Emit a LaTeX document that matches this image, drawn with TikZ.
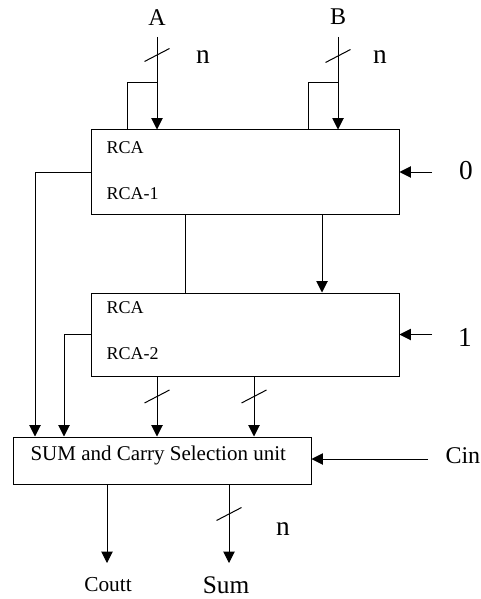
\documentclass[tikz,border=0pt]{standalone}
\usepackage{fontspec}
\setmainfont{Liberation Serif}
\usetikzlibrary{arrows.meta, positioning}

\newcommand{\busmark}[1]{\draw (#1) ++(-12.5,6.5) -- ++(25,-13);}

\begin{document}
\begin{tikzpicture}[x=0.75pt, y=-0.75pt, line width=0.75pt,
    box/.style={rectangle, draw, inner sep=0pt},
    arr/.style={-{Triangle[width=8.5pt, length=8.5pt]}},
    tag/.style={inner sep=0pt, font=\fontsize{13.5}{14}\selectfont},
    io/.style={inner sep=0pt, anchor=base, font=\fontsize{18}{19}\selectfont},
    bw/.style={inner sep=0pt, anchor=base, font=\fontsize{20.5}{21}\selectfont}]
    \useasboundingbox (0,0) rectangle (481,599);

    % blocks
    \node[box, minimum width=231pt, minimum height=63pt] (rca1) at (245,172) {};
    \node[box, minimum width=231pt, minimum height=62.25pt] (rca2) at (245,334.5) {};
    \node[box, minimum width=223.5pt, minimum height=35.25pt] (sel) at (162,460.5) {};

    \node[tag, anchor=base west] (r1a) at (106,153) {RCA};
    \node[tag, anchor=base west] (r1b) at (106,199) {RCA-1};
    \node[tag, anchor=base west] (r2a) at (106,313) {RCA};
    \node[tag, anchor=base west] (r2b) at (106,359) {RCA-2};
    \node[inner sep=0pt, anchor=base west, font=\fontsize{15.75}{16}\selectfont] (selt) at (30,460) {SUM and Carry Selection unit};

    % inputs A, B
    \node[io] (A) at (157,26) {A};
    \node[io] (B) at (338,25) {B};
    \node[bw] (nA) at (203,64) {n};
    \node[bw] (nB) at (380,64) {n};
    \coordinate (a0) at (157,37);
    \coordinate (b0) at (338,37);
    \coordinate (atap) at (157,83);
    \coordinate (btap) at (338,83);
    \coordinate (ax) at (127,0);
    \coordinate (bx) at (308,0);
    \draw[arr] (a0) -- (a0 |- rca1.north);
    \draw[arr] (b0) -- (b0 |- rca1.north);
    \draw (atap) -| (rca1.north -| ax);
    \draw (btap) -| (rca1.north -| bx);
    \busmark{157,55}
    \busmark{338,56}

    % carry inputs 0, 1
    \node[bw] (c0) at (466,180) {0};
    \node[bw] (c1) at (465,346) {1};
    \coordinate (c0s) at (432,172);
    \coordinate (c1s) at (432,334.5);
    \draw[arr] (c0s) -- (c0s -| rca1.east);
    \draw[arr] (c1s) -- (c1s -| rca2.east);

    % rca1 to rca2
    \coordinate (m1) at (185,0);
    \coordinate (m2) at (322,0);
    \draw (rca1.south -| m1) -- (rca2.north -| m1);
    \draw[arr] (rca1.south -| m2) -- (rca2.north -| m2);

    % into the selection unit
    \coordinate (l1) at (35,0);
    \coordinate (l2) at (64,0);
    \coordinate (s1) at (157,0);
    \coordinate (s2) at (254,0);
    \draw[arr] (rca1.west) -| (sel.north -| l1);
    \draw[arr] (rca2.west) -| (sel.north -| l2);
    \draw[arr] (rca2.south -| s1) -- (sel.north -| s1);
    \draw[arr] (rca2.south -| s2) -- (sel.north -| s2);
    \busmark{157,396.5}
    \busmark{254,396.5}

    % Cin
    \node[inner sep=0pt, anchor=base west, font=\fontsize{18}{19}\selectfont] (cin) at (445,463) {Cin};
    \coordinate (cins) at (428,459);
    \draw[arr] (cins) -- (cins -| sel.east);

    % outputs
    \node[inner sep=0pt, anchor=base, font=\fontsize{16}{17}\selectfont] (cout) at (108,591) {Coutt};
    \node[inner sep=0pt, anchor=base, font=\fontsize{19}{20}\selectfont] (sum) at (226,593) {Sum};
    \node[bw] (nS) at (283,535) {n};
    \coordinate (o1) at (107,563);
    \coordinate (o2) at (229,563);
    \draw[arr] (sel.south -| o1) -- (o1);
    \draw[arr] (sel.south -| o2) -- (o2);
    \busmark{229,514}
\end{tikzpicture}
\end{document}
